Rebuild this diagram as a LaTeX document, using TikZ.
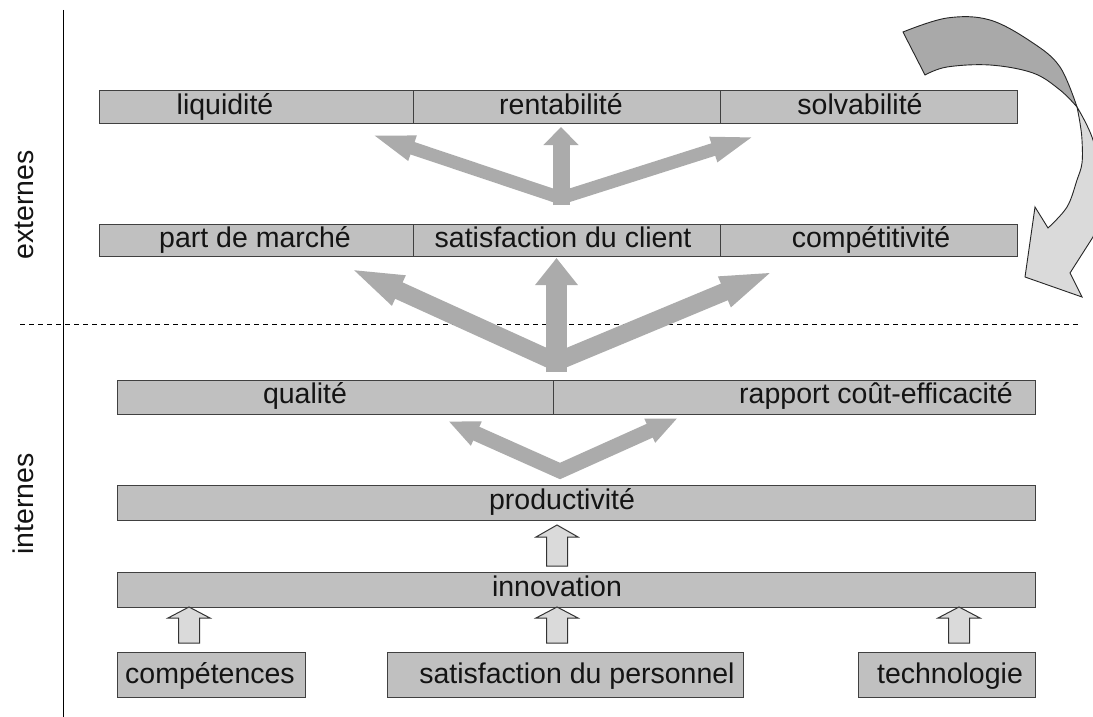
\documentclass[tikz,border=0pt]{standalone}
\usepackage{fontspec}
\setmainfont{Liberation Sans}
\usetikzlibrary{arrows.meta}
\definecolor{boxgray}{HTML}{C0C0C0}
\definecolor{arrgray}{HTML}{ABABAB}
\definecolor{lightfill}{HTML}{DADADA}
\definecolor{darkfill}{HTML}{A9A9A9}
\begin{document}
\begin{tikzpicture}[x=1pt,y=-1pt,
  cell/.style={draw=black!75, line width=1.2pt, fill=boxgray, inner sep=0pt, anchor=north west},
  lbl/.style={font=\fontsize{28.5}{31}\selectfont, inner sep=0pt, anchor=base, text=black!92},
  fatV/.style={draw=arrgray, line join=miter, line cap=butt},
  blockarrow/.style={draw=black!80, line width=1pt, fill=lightfill, line join=miter},
  curvedark/.style={draw=black!85, line width=0.9pt, fill=darkfill},
  curvelight/.style={draw=black!85, line width=0.9pt, fill=lightfill, line join=miter}]
\useasboundingbox (0,0) rectangle (1093,717);
\fill[white] (0,0) rectangle (1093,717);

% axis and separator
\coordinate (axtop) at (63,10);
\coordinate (axbot) at (63,717);
\draw[line width=1pt] (axtop) -- (axbot);
\coordinate (dl) at (20,324);
\coordinate (dr) at (1078,324);
\draw[line width=0.9pt, dash pattern=on 5pt off 4pt] (dl) -- (dr);

\node[lbl, rotate=90] (ext) at (33,205) {externes};
\node[lbl, rotate=90] (int) at (33,504) {internes};

% row 1
\node[cell, minimum width=314pt, minimum height=33pt] (c11) at (99,90) {};
\node[cell, minimum width=307pt, minimum height=33pt] (c12) at (413,90) {};
\node[cell, minimum width=297pt, minimum height=33pt] (c13) at (720,90) {};
\node[lbl] (t11) at (225,114) {liquidité};
\node[lbl] (t12) at (561,114) {rentabilité};
\node[lbl] (t13) at (860,114) {solvabilité};

% row 2
\node[cell, minimum width=314pt, minimum height=32pt] (c21) at (99,224) {};
\node[cell, minimum width=307pt, minimum height=32pt] (c22) at (413,224) {};
\node[cell, minimum width=297pt, minimum height=32pt] (c23) at (720,224) {};
\node[lbl] (t21) at (255,247.5) {part de marché};
\node[lbl] (t22) at (563,247.5) {satisfaction du client};
\node[lbl] (t23) at (871,247.5) {compétitivité};

% row 3
\node[cell, minimum width=436pt, minimum height=34pt] (c31) at (117,380) {};
\node[cell, minimum width=482pt, minimum height=34pt] (c32) at (553,380) {};
\node[lbl] (t31) at (305,403.5) {qualité};
\node[lbl] (t32) at (876,403.5) {rapport coût-efficacité};

% productivite, innovation
\node[cell, minimum width=918pt, minimum height=35pt] (prod) at (117,485) {};
\node[lbl] (tprod) at (562,509) {productivité};
\node[cell, minimum width=918pt, minimum height=35pt] (innov) at (117,572) {};
\node[lbl] (tinnov) at (557,596) {innovation};

% bottom boxes
\node[cell, minimum width=188pt, minimum height=45pt] (comp) at (117,652) {};
\node[lbl] (tcomp) at (210,683) {compétences};
\node[cell, minimum width=356pt, minimum height=45pt] (pers) at (387,652) {};
\node[lbl] (tpers) at (577,683) {satisfaction du personnel};
\node[cell, minimum width=177pt, minimum height=45pt] (tech) at (858,652) {};
\node[lbl] (ttech) at (950,683) {technologie};

% big grey arrows: top set
\coordinate (v1) at (561,198);
\coordinate (v1b) at (561,205);
\coordinate (l1) at (367,133);
\coordinate (r1) at (759,135);
\coordinate (u1) at (561,127);
\draw[fatV, line width=13pt, {Triangle[length=48pt,width=22pt]}-{Triangle[length=48pt,width=22pt]}] (l1) -- (v1) -- (r1);
\draw[fatV, line width=17pt, -{Triangle[length=18pt,width=34pt]}] (v1b) -- (u1);

% middle set
\coordinate (v2) at (556,362);
\coordinate (v2b) at (556.5,372);
\coordinate (l2) at (347,267);
\coordinate (r2) at (777,270);
\coordinate (u2) at (556.5,258);
\draw[fatV, line width=18pt, {Triangle[length=57pt,width=28pt]}-{Triangle[length=57pt,width=28pt]}] (l2) -- (v2) -- (r2);
\draw[fatV, line width=21pt, -{Triangle[length=27pt,width=41pt]}] (v2b) -- (u2);

% lower set
\coordinate (v3) at (560,471);
\coordinate (l3) at (448,421);
\coordinate (r3) at (678,418);
\draw[fatV, line width=15pt, {Triangle[length=31pt,width=24pt]}-{Triangle[length=31pt,width=24pt]}] (l3) -- (v3) -- (r3);

% small block arrows
\draw[blockarrow] (546.5,566) -- (546.5,537) -- (536,537) -- (557,525) -- (578,537) -- (567.5,537) -- (567.5,566) -- cycle;
\draw[blockarrow] (178.5,643) -- (178.5,618) -- (168,618) -- (189,607) -- (210,618) -- (199.5,618) -- (199.5,643) -- cycle;
\draw[blockarrow] (546.5,643) -- (546.5,618) -- (536,618) -- (557,607) -- (578,618) -- (567.5,618) -- (567.5,643) -- cycle;
\draw[blockarrow] (948.5,643) -- (948.5,618) -- (938,618) -- (959,607) -- (980,618) -- (969.5,618) -- (969.5,643) -- cycle;

% curved twisted arrow (top right)
\begin{scope}
\clip (0,0) rectangle (1093,717);
\draw[curvedark] plot[smooth, tension=0.6] coordinates {(903,32) (947,18) (990,20) (1033,43) (1060,67) (1077,107)}
  -- plot[smooth, tension=0.6] coordinates {(1077,107) (1060,90) (1033,73) (990,65) (947,67) (925,75)} -- cycle;
\draw[curvelight] plot[smooth, tension=0.6] coordinates {(1077,107) (1080,123) (1082,140) (1082,163) (1077,180) (1067,207) (1048,228)}
  -- (1035,207) -- (1025,277) -- (1082,297) -- (1070,273) -- (1093,237)
  -- plot[smooth, tension=0.6] coordinates {(1093,237) (1103,190) (1093,140) (1077,107)} -- cycle;
\end{scope}
\end{tikzpicture}
\end{document}
